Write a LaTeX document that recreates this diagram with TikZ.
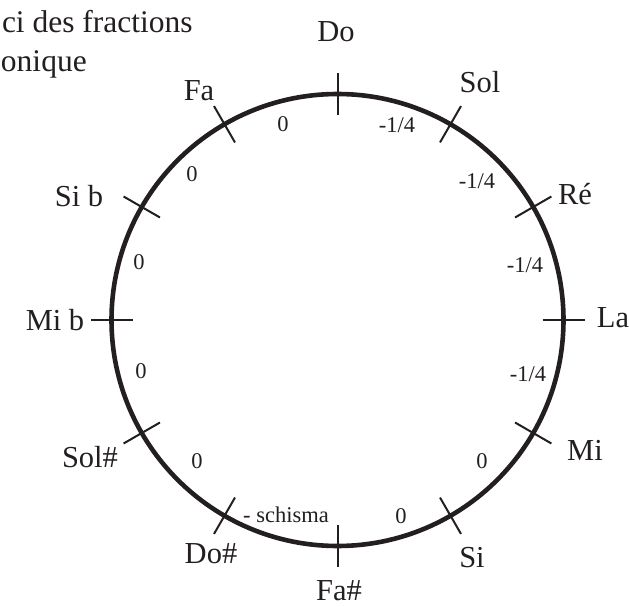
\documentclass[tikz,border=0pt]{standalone}
\usepackage{fontspec}
\setmainfont{Liberation Serif}
\definecolor{ink}{RGB}{35,31,32}
\begin{document}
\begin{tikzpicture}[x=1pt,y=1pt,
  every node/.style={inner sep=0pt,outer sep=0pt,text=ink},
  note/.style={font=\fontsize{30.5}{32}\selectfont,anchor=base},
  gap/.style={font=\fontsize{22.5}{24}\selectfont,anchor=base},
  title/.style={font=\fontsize{31.5}{34}\selectfont,anchor=base west},
  ring/.style={draw=ink,line width=4.6pt},
  tickmark/.style={draw=ink,line width=2pt}]
\useasboundingbox (0,0) rectangle (629,606);
\coordinate (c) at (337.5,286);
% circle
\draw[ring] (c) circle (226);
% ticks
\foreach \a in {0,30,...,330}{
  \draw[tickmark] (c) ++(\a:205) -- ++(\a:42);
}
% title (cropped)
\node[title] (t1) at (2,573) {ci des fractions};
\node[title] (t2) at (1,534) {onique};
% note names
\node[note] (do)   at (336,564) {Do};
\node[note] (sol)  at (480,513) {Sol};
\node[note] (re)   at (575,401) {Ré};
\node[note] (la)   at (613,279) {La};
\node[note] (mi)   at (585,146) {Mi};
\node[note] (si)   at (472,39)  {Si};
\node[note] (fad)  at (339,6)   {Fa\#};
\node[note] (dod)  at (211,43)  {Do\#};
\node[note] (sold) at (90,139)  {Sol\#};
\node[note] (mib)  at (55,276)  {Mi b};
\node[note] (sib)  at (79,399)  {Si b};
\node[note] (fa)   at (199,505) {Fa};
% interval fractions
\node[gap] (g1)  at (397,473) {-1/4};
\node[gap] (g2)  at (477,417) {-1/4};
\node[gap] (g3)  at (525,333) {-1/4};
\node[gap] (g4)  at (528,225) {-1/4};
\node[gap] (g5)  at (482,138) {0};
\node[gap] (g6)  at (401,83)  {0};
\node[gap] (g7)  at (286,84)  {- schisma};
\node[gap] (g8)  at (197,138) {0};
\node[gap] (g9)  at (141,228) {0};
\node[gap] (g10) at (139,337) {0};
\node[gap] (g11) at (192,424) {0};
\node[gap] (g12) at (283,474) {0};
\end{tikzpicture}
\end{document}
